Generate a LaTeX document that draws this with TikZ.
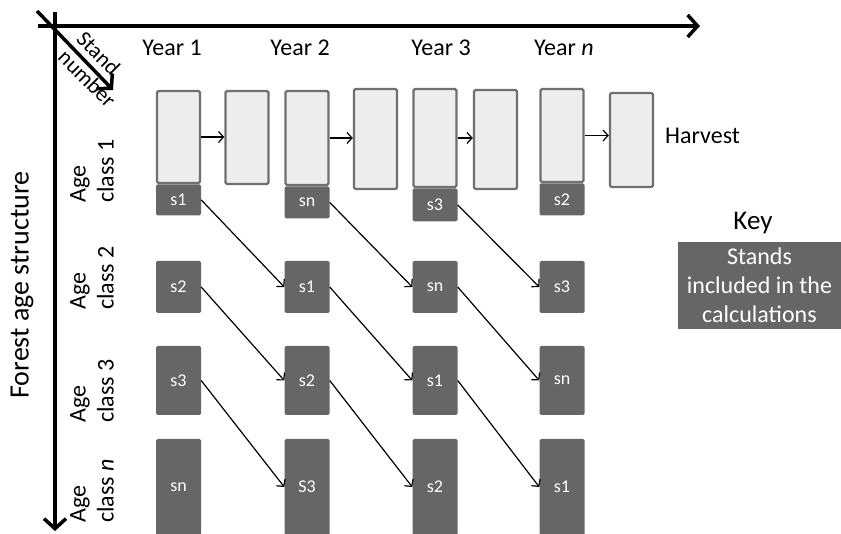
\documentclass[tikz,border=0pt]{standalone}
\usepackage{fontspec}
\setmainfont{Carlito}
\usetikzlibrary{arrows.meta,positioning}
\definecolor{boxdark}{RGB}{102,102,102}
\definecolor{boxlight}{RGB}{237,237,237}
\definecolor{boxedge}{RGB}{112,112,112}
\tikzset{
  axis/.style={line width=3.5pt, -{Straight Barb[length=10pt,width=22pt]}},
  flow/.style={line width=1.2pt, -{Straight Barb[length=5pt,width=11pt]}},
  lightbox/.style={draw=boxedge, line width=2.4pt, fill=boxlight, rounded corners=1.5pt, minimum width=43pt, inner sep=0pt},
  darkbox/.style={fill=boxdark, text=white, rounded corners=1.5pt, minimum width=45pt, inner sep=0pt, font=\fontsize{18}{21}\selectfont},
  biglabel/.style={font=\fontsize{24}{28}\selectfont, inner sep=0pt},
  agelabel/.style={biglabel, rotate=90, align=left, anchor=west}
}
\begin{document}
\begin{tikzpicture}[x=1pt, y=-1pt]
  \useasboundingbox (0,0) rectangle (841,534);

  % Eixos
  \coordinate (xend) at (700,26);
  \coordinate (yend) at (55,531);
  \coordinate (dstart) at (37,11);
  \coordinate (dend) at (113,90);
  \draw[axis] (38,26) -- (xend);
  \draw[axis] (55,12) -- (yend);
  \draw[axis] (dstart) -- (dend);
  \node[font=\fontsize{22}{26}\selectfont, rotate=-45, align=left, inner sep=0pt] (stand) at (96.5,69.5) {Stand\\number};
  \node[font=\fontsize{28}{32}\selectfont, rotate=90, inner sep=0pt] (forest) at (22,285) {Forest age structure};

  % Anos
  \node[biglabel] (year1) at (172,48) {Year 1};
  \node[biglabel] (year2) at (300,48) {Year 2};
  \node[biglabel] (year3) at (441,48) {Year 3};
  \node[biglabel] (yearn) at (564,48) {Year \textit{n}};

  % Classes de idade
  \node[agelabel] (age1) at (92,203) {Age\\class 1};
  \node[agelabel] (age2) at (92,310) {Age\\class 2};
  \node[agelabel] (age3) at (92,423) {Age\\class 3};
  \node[agelabel] (agen) at (92,523) {Age\\class \textit{n}};

  % Classe 1 e corte
  \node[lightbox, minimum height=92pt] (top1) at (178.5,137) {};
  \node[lightbox, minimum height=94pt] (top2) at (307,138) {};
  \node[lightbox, minimum height=98pt] (top3) at (435,138) {};
  \node[lightbox, minimum height=93pt] (top4) at (562,135.5) {};
  \node[darkbox, minimum height=31pt, below=0pt of top1] (a1y1) {s1};
  \node[darkbox, minimum height=32pt, below=0pt of top2] (a1y2) {sn};
  \node[darkbox, minimum height=33pt, below=0pt of top3] (a1y3) {s3};
  \node[darkbox, minimum height=32pt, below=0pt of top4] (a1y4) {s2};
  \node[lightbox, minimum height=93pt] (harv1) at (247,137.5) {};
  \node[lightbox, minimum height=100pt] (harv2) at (375.5,139) {};
  \node[lightbox, minimum height=99pt] (harv3) at (495.5,139.5) {};
  \node[lightbox, minimum height=94pt] (harv4) at (631.5,140) {};
  \node[biglabel, anchor=west] (harvest) at (665,136) {Harvest};

  % Classes 2, 3 e n
  \node[darkbox, minimum height=52pt] (a2y1) at (178.5,287) {s2};
  \node[darkbox, minimum height=52pt] (a2y2) at (307,287) {s1};
  \node[darkbox, minimum height=52pt] (a2y3) at (435,287) {sn};
  \node[darkbox, minimum height=52pt] (a2y4) at (562,287) {s3};
  \node[darkbox, minimum height=69pt] (a3y1) at (178.5,380.5) {s3};
  \node[darkbox, minimum height=69pt] (a3y2) at (307,380.5) {s2};
  \node[darkbox, minimum height=69pt] (a3y3) at (435,380.5) {s1};
  \node[darkbox, minimum height=69pt] (a3y4) at (562,380.5) {sn};
  \node[darkbox, minimum height=96pt] (any1) at (178.5,487) {sn};
  \node[darkbox, minimum height=96pt] (any2) at (307,487) {S3};
  \node[darkbox, minimum height=96pt] (any3) at (435,487) {s2};
  \node[darkbox, minimum height=96pt] (any4) at (562,487) {s1};

  % Legenda
  \node[font=\fontsize{27}{30}\selectfont, inner sep=0pt] (key) at (753,223) {Key};
  \node[fill=boxdark, text=white, align=center, minimum width=163pt, minimum height=87pt, inner sep=0pt, font=\fontsize{24}{29}\selectfont] (keybox) at (759.5,285.5) {Stands\\included in the\\calculations};

  % Setas
  \draw[flow] (top1.east) -- (top1.east -| harv1.west);
  \draw[flow] (top2.east) -- (top2.east -| harv2.west);
  \draw[flow] (top3.east) -- (top3.east -| harv3.west);
  \draw[flow] (top4.east) -- (top4.east -| harv4.west);
  \draw[flow] (a1y1.east) -- (a2y2.west);
  \draw[flow] (a1y2.east) -- (a2y3.west);
  \draw[flow] (a1y3.east) -- (a2y4.west);
  \draw[flow] (a2y1.east) -- (a3y2.west);
  \draw[flow] (a2y2.east) -- (a3y3.west);
  \draw[flow] (a2y3.east) -- (a3y4.west);
  \draw[flow] (a3y1.east) -- (any2.west);
  \draw[flow] (a3y2.east) -- (any3.west);
  \draw[flow] (a3y3.east) -- (any4.west);
\end{tikzpicture}
\end{document}
